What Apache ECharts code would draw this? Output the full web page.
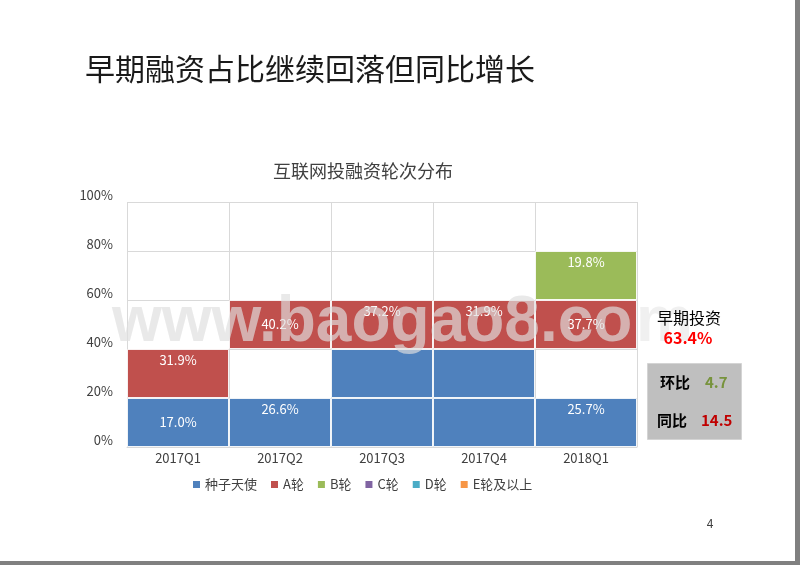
<!DOCTYPE html>
<html>
<head>
<meta charset="utf-8">
<script src="https://cdn.jsdelivr.net/npm/echarts@6/dist/echarts.min.js"></script>
<style>
html,body{margin:0;padding:0;background:#fff;}
#c{width:800px;height:565px;}
</style>
</head>
<body>
<div id="c"></div>
<script>
// ---- data ----
const slideTitle = '早期融资占比继续回落但同比增长';
const chartTitle = '互联网投融资轮次分布';
const categories = ['2017Q1', '2017Q2', '2017Q3', '2017Q4', '2018Q1'];
const seriesNames = ['种子天使', 'A轮', 'B轮', 'C轮', 'D轮', 'E轮及以上'];
const yTicks = [0, 20, 40, 60, 80, 100];
// drawn band heights (percent of axis)
const seedLower = [20, 20, 20, 20, 20];
const seedUpper = [0, 0, 20, 20, 0];
const emptyBand = [0, 20, 0, 0, 20];
const roundA = [20, 20, 20, 20, 20];
const roundB = [0, 0, 0, 0, 20];
const roundC = [0, 0, 0, 0, 0];
const roundD = [0, 0, 0, 0, 0];
const roundE = [0, 0, 0, 0, 0];
// printed labels
const seedLabels = ['17.0%', '26.6%', '', '', '25.7%'];
const aLabels = ['31.9%', '40.2%', '37.2%', '31.9%', '37.7%'];
const bLabels = ['', '', '', '', '19.8%'];
const earlyName = '早期投资';
const earlyShare = '63.4%';
const qoqName = '环比';
const qoqValue = '4.7';
const yoyName = '同比';
const yoyValue = '14.5';
const pageNo = '4';
const watermarkMain = 'www.baogao8.co';
const watermarkTail = 'm';

// ---- build ----
const FONT = '"Noto Sans CJK SC", "Noto Sans", sans-serif';
const colors = ['#4F81BD', '#C0504D', '#9BBB59', '#8064A2', '#4BACC6', '#F79646'];
const centered = { seed: [0], a: [1, 4], b: [] };

function items(vals, texts, centerIdx) {
  return vals.map((v, i) => {
    if (!v) return '-';
    const t = texts ? texts[i] : '';
    return {
      value: v,
      label: {
        show: !!t,
        formatter: t,
        position: centerIdx && centerIdx.indexOf(i) >= 0 ? 'inside' : 'insideTop'
      }
    };
  });
}

const barBase = {
  type: 'bar',
  stack: 'all',
  barCategoryGap: '0%',
  itemStyle: { borderColor: 'rgba(255,255,255,0.85)', borderWidth: 1 },
  label: { color: '#fff', fontSize: 13, fontFamily: FONT, distance: 5 },
  emphasis: { disabled: true }
};

function styled(color) {
  return Object.assign({}, barBase.itemStyle, { color: color });
}

const series = [
  Object.assign({}, barBase, { name: seriesNames[0], data: items(seedLower, seedLabels, centered.seed), itemStyle: styled(colors[0]) }),
  Object.assign({}, barBase, { name: seriesNames[0], data: items(seedUpper, null), itemStyle: styled(colors[0]) }),
  Object.assign({}, barBase, { name: 'gap', data: items(emptyBand, null), itemStyle: { color: 'rgba(0,0,0,0)', borderWidth: 0 }, silent: true }),
  Object.assign({}, barBase, { name: seriesNames[1], data: items(roundA, aLabels, centered.a), itemStyle: styled(colors[1]) }),
  Object.assign({}, barBase, { name: seriesNames[2], data: items(roundB, bLabels, centered.b), itemStyle: styled(colors[2]) }),
  Object.assign({}, barBase, { name: seriesNames[3], data: items(roundC, null), itemStyle: styled(colors[3]) }),
  Object.assign({}, barBase, { name: seriesNames[4], data: items(roundD, null), itemStyle: styled(colors[4]) }),
  Object.assign({}, barBase, { name: seriesNames[5], data: items(roundE, null), itemStyle: styled(colors[5]) })
];

const chart = echarts.init(document.getElementById('c'), null, { renderer: 'canvas' });

chart.setOption({
  backgroundColor: '#ffffff',
  animation: false,
  title: {
    text: chartTitle,
    left: 358, top: 157, textAlign: 'center',
    textStyle: { fontSize: 18, fontWeight: 'normal', color: '#404040', fontFamily: FONT }
  },
  legend: {
    data: seriesNames.map((n, i) => ({ name: n, itemStyle: { color: colors[i], borderWidth: 0 } })),
    left: 193, top: 478, padding: 0,
    icon: 'rect', itemWidth: 7, itemHeight: 7, itemGap: 14,
    textStyle: { fontSize: 13, color: '#404040', fontFamily: FONT }
  },
  grid: { left: 127, right: 163, top: 202, bottom: 118, containLabel: false },
  xAxis: {
    type: 'category',
    data: categories,
    axisLine: { show: true, lineStyle: { color: '#D9D9D9' } },
    axisTick: { show: false },
    splitLine: { show: true, lineStyle: { color: '#D9D9D9' } },
    axisLabel: { fontSize: 13, color: '#404040', fontFamily: FONT, margin: 5 }
  },
  yAxis: {
    type: 'value',
    min: yTicks[0], max: yTicks[yTicks.length - 1], interval: yTicks[1] - yTicks[0],
    axisLine: { show: false },
    axisTick: { show: false },
    splitLine: { lineStyle: { color: '#D9D9D9' } },
    axisLabel: { formatter: '{value}%', fontSize: 13, color: '#404040', fontFamily: FONT, margin: 14, verticalAlign: 'bottom', lineHeight: 14 }
  },
  series: series,
  graphic: [
    { type: 'text', left: 85, top: 54, style: { text: slideTitle, fontSize: 30, fill: '#1a1a1a', fontFamily: FONT } },
    { type: 'text', x: 657, y: 318, style: { text: earlyName, fontSize: 16, fill: '#000', fontFamily: FONT, verticalAlign: 'middle' }, z: 10 },
    { type: 'text', x: 688, y: 338, style: { text: earlyShare, fontSize: 16, fontWeight: 'bold', fill: '#FF0000', fontFamily: FONT, align: 'center', verticalAlign: 'middle' }, z: 10 },
    { type: 'rect', shape: { x: 647.5, y: 363.5, width: 94, height: 76 }, style: { fill: '#BFBFBF', stroke: '#D4D4D4', lineWidth: 1 }, z: 10 },
    { type: 'text', x: 660, y: 382, style: { text: qoqName, fontSize: 15, fontWeight: 'bold', fill: '#000', fontFamily: FONT, verticalAlign: 'middle' }, z: 11 },
    { type: 'text', x: 705, y: 382, style: { text: qoqValue, fontSize: 15, fontWeight: 'bold', fill: '#77933C', fontFamily: FONT, verticalAlign: 'middle' }, z: 11 },
    { type: 'text', x: 657, y: 420, style: { text: yoyName, fontSize: 15, fontWeight: 'bold', fill: '#000', fontFamily: FONT, verticalAlign: 'middle' }, z: 11 },
    { type: 'text', x: 701, y: 420, style: { text: yoyValue, fontSize: 15, fontWeight: 'bold', fill: '#C00000', fontFamily: FONT, verticalAlign: 'middle' }, z: 11 },
    { type: 'text', x: 710, y: 523, style: { text: pageNo, fontSize: 12, fill: '#404040', fontFamily: FONT, align: 'center', verticalAlign: 'middle' } },
    { type: 'text', x: 112, y: 323, style: { text: watermarkMain, fontSize: 64, fontWeight: 'bold', fill: 'rgba(222,222,222,0.68)', fontFamily: '"Liberation Sans", Arial, sans-serif', verticalAlign: 'middle' }, z: 20, silent: true },
    { type: 'text', x: 636, y: 323, style: { text: watermarkTail, fontSize: 64, fontWeight: 'bold', fill: 'rgba(222,222,222,0.45)', fontFamily: '"Liberation Sans", Arial, sans-serif', verticalAlign: 'middle' }, z: 9, silent: true },
    { type: 'rect', shape: { x: 795, y: 0, width: 5, height: 565 }, style: { fill: '#808080' }, z: 30 },
    { type: 'rect', shape: { x: 0, y: 561, width: 800, height: 4 }, style: { fill: '#808080' }, z: 30 }
  ]
});
</script>
</body>
</html>
